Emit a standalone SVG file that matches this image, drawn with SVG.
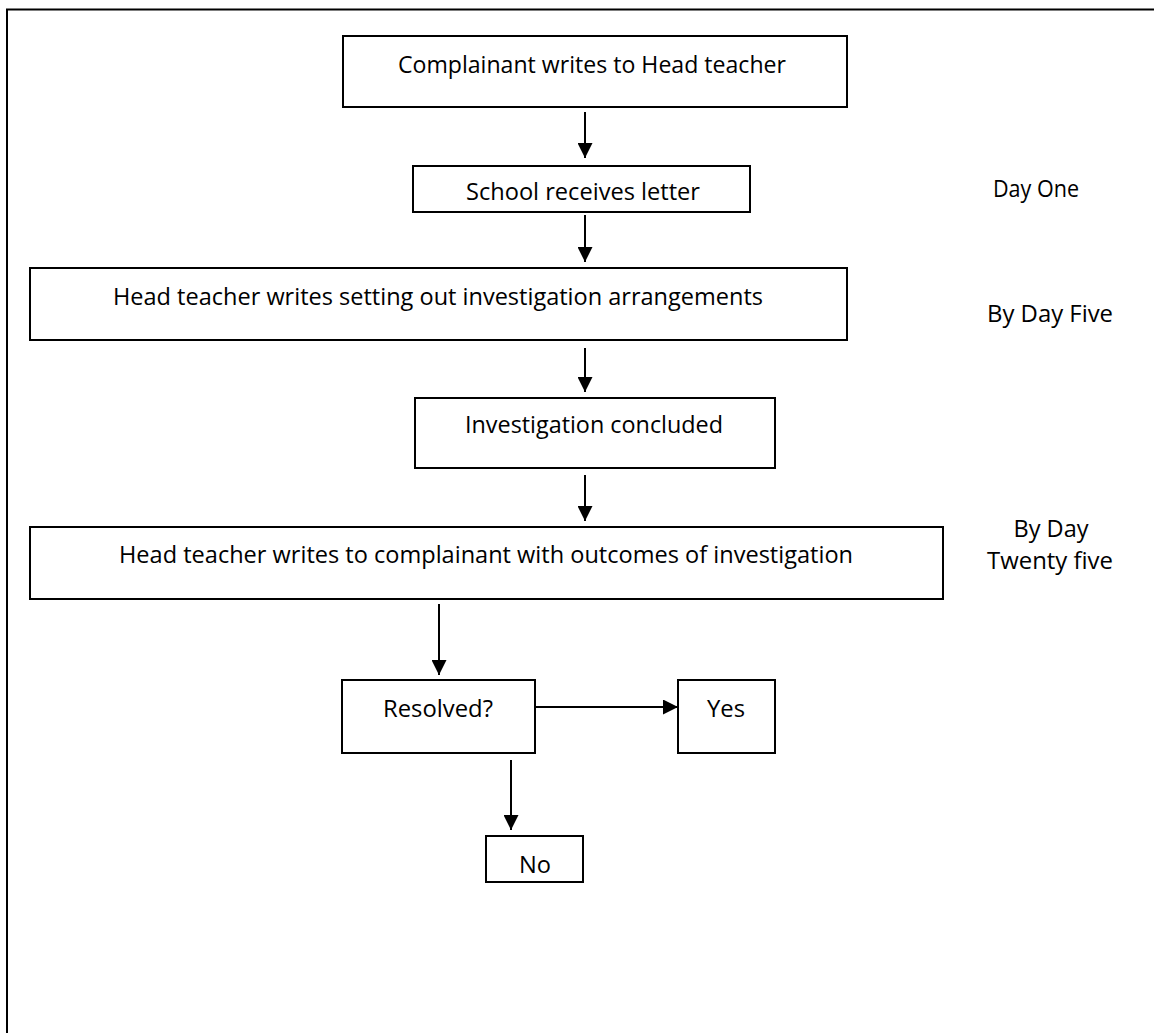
<svg xmlns="http://www.w3.org/2000/svg" width="1154" height="1033" viewBox="0 0 1154 1033">
<style>
.box{fill:#fff;stroke:#000;stroke-width:2}
.t{font-family:"Open Sans","Noto Sans",sans-serif;font-size:23px;fill:#000;text-anchor:middle}
.c{stroke:#000;stroke-width:2;fill:none;marker-end:url(#ah)}
</style>
<defs>
<marker id="ah" viewBox="0 0 10 10" refX="10" refY="5" markerWidth="7.5" markerHeight="7.5" markerUnits="strokeWidth" orient="auto">
<path d="M0,0 L10,5 L0,10 z" fill="#000"/>
</marker>
</defs>
<rect width="1154" height="1033" fill="#fff"/>
<path d="M7,1033 V9.5 H1154" fill="none" stroke="#000" stroke-width="2"/>
<g id="n1"><rect class="box" x="343" y="36" width="504" height="71"/><text class="t" x="592" y="73" textLength="388" lengthAdjust="spacingAndGlyphs">Complainant writes to Head teacher</text></g>
<g id="n2"><rect class="box" x="413" y="166" width="337" height="46"/><text class="t" x="583" y="200" textLength="234" lengthAdjust="spacingAndGlyphs">School receives letter</text></g>
<g id="n3"><rect class="box" x="30" y="268" width="817" height="72"/><text class="t" x="438" y="305" textLength="650" lengthAdjust="spacingAndGlyphs">Head teacher writes setting out investigation arrangements</text></g>
<g id="n4"><rect class="box" x="415" y="398" width="360" height="70"/><text class="t" x="594" y="433" textLength="258" lengthAdjust="spacingAndGlyphs">Investigation concluded</text></g>
<g id="n5"><rect class="box" x="30" y="527" width="913" height="72"/><text class="t" x="486" y="563" textLength="734" lengthAdjust="spacingAndGlyphs">Head teacher writes to complainant with outcomes of investigation</text></g>
<g id="n6"><rect class="box" x="342" y="680" width="193" height="73"/><text class="t" x="438" y="717" textLength="110" lengthAdjust="spacingAndGlyphs">Resolved?</text></g>
<g id="n7"><rect class="box" x="678" y="680" width="97" height="73"/><text class="t" x="726" y="717" textLength="38" lengthAdjust="spacingAndGlyphs">Yes</text></g>
<g id="n8"><rect class="box" x="486" y="836" width="97" height="46"/><text class="t" x="535" y="873" textLength="32" lengthAdjust="spacingAndGlyphs">No</text></g>
<g id="l1"><text class="t" x="1036" y="197" textLength="86" lengthAdjust="spacingAndGlyphs">Day One</text></g>
<g id="l2"><text class="t" x="1050" y="322" textLength="126" lengthAdjust="spacingAndGlyphs">By Day Five</text></g>
<g id="l3"><text class="t" x="1051" y="537" textLength="75" lengthAdjust="spacingAndGlyphs">By Day</text><text class="t" x="1050" y="569" textLength="126" lengthAdjust="spacingAndGlyphs">Twenty five</text></g>
<g id="connectors">
<line class="c" x1="585" y1="112" x2="585" y2="158"/>
<line class="c" x1="585" y1="215" x2="585" y2="262"/>
<line class="c" x1="585" y1="348" x2="585" y2="392"/>
<line class="c" x1="585" y1="475" x2="585" y2="521"/>
<line class="c" x1="439" y1="604" x2="439" y2="675"/>
<line class="c" x1="536" y1="707" x2="678" y2="707"/>
<line class="c" x1="511" y1="760" x2="511" y2="830"/>
</g>
</svg>
